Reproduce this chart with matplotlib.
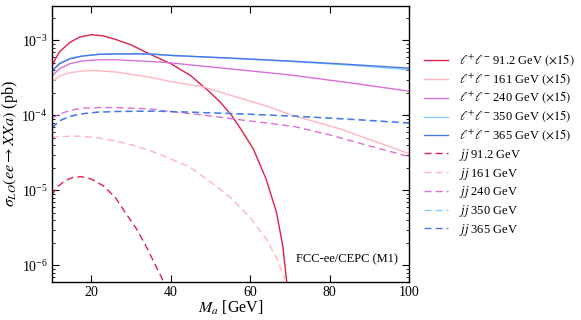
import matplotlib
matplotlib.use("Agg")
import matplotlib.pyplot as plt
import numpy as np

plt.rcParams['font.family'] = ['Liberation Serif', 'DejaVu Serif']
plt.rcParams['mathtext.fontset'] = 'stix'

# values, as log10(sigma / pb)
x_ll912 = [10, 11, 12, 14.5, 17, 20, 23, 26, 30, 34.6, 40, 45, 49.4, 52.4, 55.3, 57.6, 60.8, 64, 66.6, 68.2, 69.2]
y_ll912 = [-3.356, -3.24, -3.15, -3.03, -2.955, -2.924, -2.94, -2.985, -3.06, -3.18, -3.31, -3.47, -3.67, -3.82, -4.0, -4.18, -4.45, -4.85, -5.29, -5.74, -6.23]

x_ll161 = [10, 12, 14.6, 17.6, 20.5, 26, 34.6, 40, 48.2, 56.6, 65, 70, 76, 82.6, 91, 100]
y_ll161 = [-3.556, -3.476, -3.43, -3.41, -3.40, -3.42, -3.49, -3.55, -3.62, -3.757, -3.89, -3.99, -4.08, -4.18, -4.34, -4.51]

x_ll240 = [10, 12, 14.6, 17.6, 21.7, 26, 34.6, 40, 55, 70, 85, 100]
y_ll240 = [-3.476, -3.378, -3.31, -3.275, -3.258, -3.258, -3.28, -3.30, -3.38, -3.46, -3.565, -3.677]

x_ll350 = [10, 12, 14.6, 17.6, 21.7, 26, 34.6, 40, 55, 70, 85, 100]
y_ll350 = [-3.405, -3.305, -3.24, -3.207, -3.185, -3.18, -3.182, -3.20, -3.24, -3.28, -3.33, -3.39]

x_ll365 = [10, 12, 14.6, 17.6, 21.7, 26, 34.6, 40, 55, 70, 85, 100]
y_ll365 = [-3.414, -3.31, -3.245, -3.21, -3.187, -3.18, -3.18, -3.20, -3.235, -3.275, -3.32, -3.37]

x_jj912 = [10, 11.3, 13.4, 15.4, 17.5, 20, 23, 26, 28.5, 31.4, 33.9, 36, 38.1]
y_jj912 = [-5.07, -4.96, -4.87, -4.826, -4.818, -4.85, -4.94, -5.094, -5.294, -5.517, -5.76, -5.985, -6.21]

x_jj161 = [10, 14.6, 17.6, 22.2, 26.4, 30.6, 34.8, 40.6, 44.8, 49.9, 54.9, 59.9, 64.1, 66.6, 68.8]
y_jj161 = [-4.29, -4.278, -4.278, -4.305, -4.345, -4.40, -4.47, -4.595, -4.69, -4.885, -5.09, -5.36, -5.65, -5.90, -6.19]

x_jj240 = [10, 12.1, 14.6, 17.6, 21.7, 26, 34.6, 40, 48, 55.6, 64, 71.2, 80, 86.8, 93, 100]
y_jj240 = [-4.04, -3.98, -3.935, -3.904, -3.896, -3.896, -3.913, -3.95, -3.995, -4.047, -4.10, -4.15, -4.26, -4.36, -4.45, -4.55]

x_jj350 = [10, 12.1, 14.6, 17.6, 21.7, 26, 34.6, 40, 55, 71.2, 85, 100]
y_jj350 = [-4.16, -4.065, -4.01, -3.977, -3.955, -3.947, -3.943, -3.948, -3.975, -4.012, -4.055, -4.105]

x_jj365 = [10, 12.1, 14.6, 17.6, 21.7, 26, 34.6, 40, 55, 71.2, 85, 100]
y_jj365 = [-4.17, -4.07, -4.015, -3.98, -3.957, -3.949, -3.944, -3.949, -3.975, -4.01, -4.05, -4.10]

energies = ['91.2', '161', '240', '350', '365']
colors = ['#e0204a', '#ffb6c1', '#da70d6', '#87cefa', '#4a76e8']
ll_x = [x_ll912, x_ll161, x_ll240, x_ll350, x_ll365]
ll_y = [y_ll912, y_ll161, y_ll240, y_ll350, y_ll365]
jj_x = [x_jj912, x_jj161, x_jj240, x_jj350, x_jj365]
jj_y = [y_jj912, y_jj161, y_jj240, y_jj350, y_jj365]

fig = plt.figure(figsize=(5.81, 3.20), dpi=100)
ax = fig.add_axes([0.089, 0.119, 0.615, 0.863])

for e, c, xs, ys in zip(energies, colors, ll_x, ll_y):
    ax.plot(xs, 10 ** np.array(ys), color=c, lw=1.0,
            label=r'$\ell^{+}\ell^{-}$ ' + e + r' GeV $(\times 15)$')
for e, c, xs, ys in zip(energies, colors, jj_x, jj_y):
    ax.plot(xs, 10 ** np.array(ys), color=c, lw=1.0, ls=(0, (5, 3)),
            label=r'$jj$ ' + e + ' GeV')

ax.set_yscale('log')
ax.set_xlim(10, 100)
ax.set_ylim(6e-7, 2.9e-3)
ax.set_xticks([20, 40, 60, 80, 100])
ax.tick_params(which='both', direction='in', top=True, right=True, labelsize=10, pad=3)
ax.tick_params(which='major', length=5)
ax.tick_params(which='minor', length=2.5)
for s in ax.spines.values():
    s.set_linewidth(1.0)

ax.set_xlabel(r'$M_a$ [GeV]', fontsize=11.5, labelpad=0)
ax.set_ylabel(r'$\sigma_{LO}(ee \rightarrow XXa)$ (pb)', fontsize=11.5, labelpad=1)
ax.text(0.97, 0.06, 'FCC-ee/CEPC (M1)', transform=ax.transAxes, ha='right', va='bottom', fontsize=9)

ax.legend(loc='upper left', bbox_to_anchor=(1.01, 0.87), frameon=False, fontsize=9,
          handlelength=1.9, labelspacing=0.22, handletextpad=0.9)

fig.savefig('out.png', dpi=100)
